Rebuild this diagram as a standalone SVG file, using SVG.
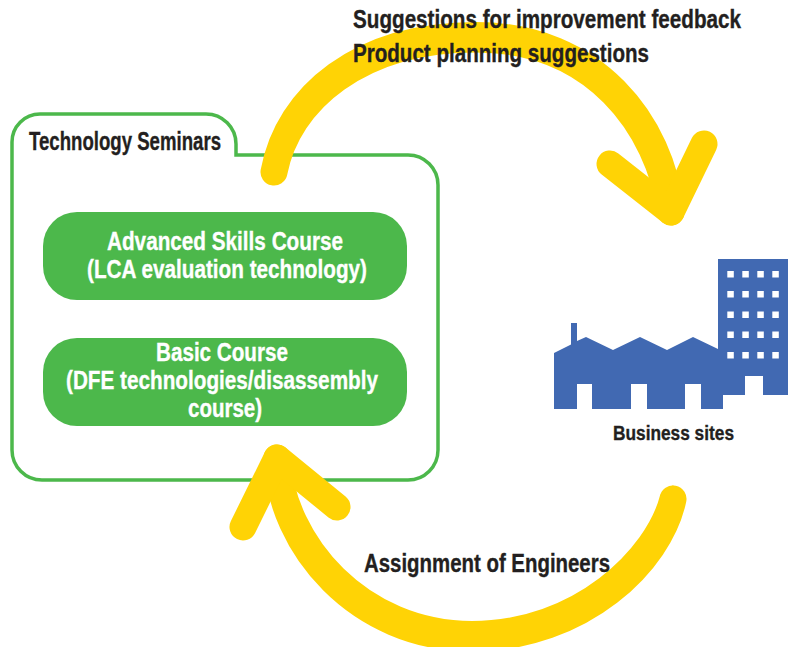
<svg xmlns="http://www.w3.org/2000/svg" width="791" height="647" viewBox="0 0 791 647">
<style>
text{font-family:"Liberation Sans",Arial,sans-serif;font-weight:700;fill:#231f20;stroke:#231f20;stroke-width:.35;font-size:25px}
text.w{fill:#fff;stroke:#fff}
.pill{fill:#4cb84b}
.arr{fill:none;stroke:#ffd305;stroke-width:27;stroke-linecap:round;stroke-linejoin:round}
.win{fill:#fff}
</style>
<g id="seminars">
<path d="M12 142A28 28 0 0 1 40 114H206A30 30 0 0 1 236 144V155H408A30 30 0 0 1 438 185V450A30 30 0 0 1 408 480H42A30 30 0 0 1 12 450Z" fill="#fff" stroke="#4cb84b" stroke-width="3.5"/>
<text x="29" y="150" textLength="192" lengthAdjust="spacingAndGlyphs">Technology Seminars</text>
</g>
<g id="advanced">
<rect class="pill" x="43" y="212" width="364" height="88" rx="34"/>
<text class="w" x="107" y="250" textLength="236" lengthAdjust="spacingAndGlyphs">Advanced Skills Course</text>
<text class="w" x="87" y="278" textLength="280" lengthAdjust="spacingAndGlyphs">(LCA evaluation technology)</text>
</g>
<g id="basic">
<rect class="pill" x="43" y="338" width="364" height="88" rx="34"/>
<text class="w" x="156" y="361" textLength="132" lengthAdjust="spacingAndGlyphs">Basic Course</text>
<text class="w" x="66" y="389" textLength="312" lengthAdjust="spacingAndGlyphs">(DFE technologies/disassembly</text>
<text class="w" x="188" y="417" textLength="74" lengthAdjust="spacingAndGlyphs">course)</text>
</g>
<g id="connectors">
<path class="arr" d="M274 172C288 96 360 35.500 476 35.500C595 35.500 662 124 671 212C658 126 595 39 476 39C360 39 288 100 274 172"/>
<path class="arr" d="M610 164L671 212L704 144"/>
<path class="arr" d="M673 499C660 562 582 638 472 638C358 638 280 546 277 458C282 544 360 634.500 472 634.500C580 634.500 658 558 673 499"/>
<path class="arr" d="M337 507L277 458L243 527"/>
<text x="353" y="28" textLength="388" lengthAdjust="spacingAndGlyphs">Suggestions for improvement feedback</text>
<text x="353" y="62" textLength="296" lengthAdjust="spacingAndGlyphs">Product planning suggestions</text>
<text x="364" y="572" textLength="246" lengthAdjust="spacingAndGlyphs">Assignment of Engineers</text>
</g>
<g id="business-sites">
<path fill="#4169b2" d="M554 353L571 344.500V323H577V341L586 337L613 350L640 337L667 350L693 337L718 349V259H788V395H763V376H745V395H723V409H701V384H685V409H647V384H631V409H592V384H577V409H554Z"/>
<g class="win">
<rect x="727.300" y="271" width="6.500" height="6.500"/><rect x="742.300" y="271" width="6.500" height="6.500"/><rect x="757.300" y="271" width="6.500" height="6.500"/><rect x="772.300" y="271" width="6.500" height="6.500"/>
<rect x="727.300" y="291" width="6.500" height="6.500"/><rect x="742.300" y="291" width="6.500" height="6.500"/><rect x="757.300" y="291" width="6.500" height="6.500"/><rect x="772.300" y="291" width="6.500" height="6.500"/>
<rect x="727.300" y="311.500" width="6.500" height="6.500"/><rect x="742.300" y="311.500" width="6.500" height="6.500"/><rect x="757.300" y="311.500" width="6.500" height="6.500"/><rect x="772.300" y="311.500" width="6.500" height="6.500"/>
<rect x="727.300" y="331.500" width="6.500" height="6.500"/><rect x="742.300" y="331.500" width="6.500" height="6.500"/><rect x="757.300" y="331.500" width="6.500" height="6.500"/><rect x="772.300" y="331.500" width="6.500" height="6.500"/>
<rect x="727.300" y="352" width="6.500" height="6.500"/><rect x="742.300" y="352" width="6.500" height="6.500"/><rect x="757.300" y="352" width="6.500" height="6.500"/><rect x="772.300" y="352" width="6.500" height="6.500"/>
</g>
<text x="613" y="440" style="font-size:20px" textLength="121" lengthAdjust="spacingAndGlyphs">Business sites</text>
</g>
</svg>
